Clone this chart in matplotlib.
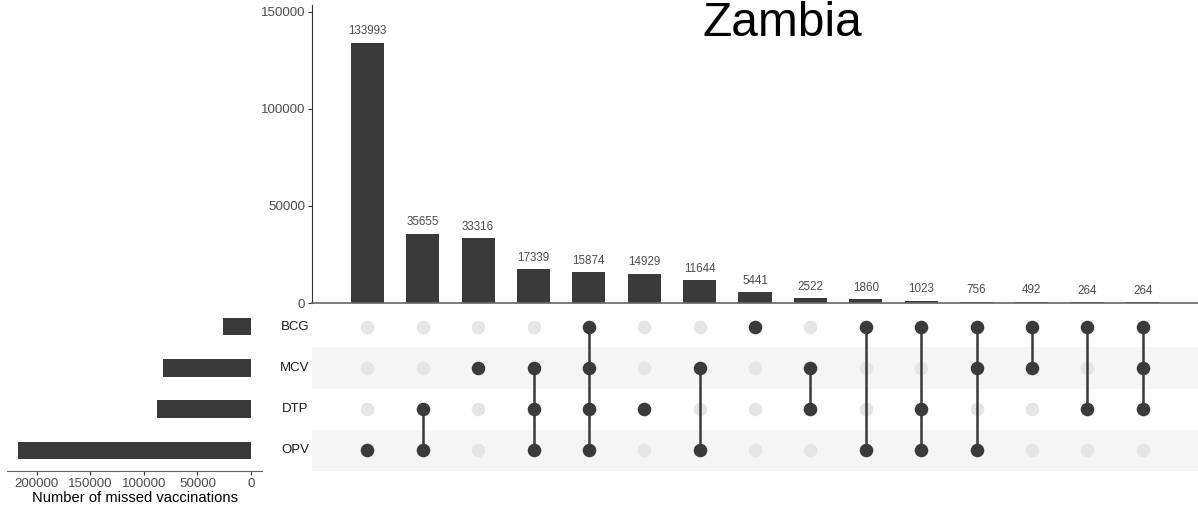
import numpy as np
import matplotlib
matplotlib.use("Agg")
import matplotlib.pyplot as plt
import matplotlib.transforms as mtransforms

plt.rcParams['font.family'] = ['Liberation Sans', 'DejaVu Sans']

# data
sets = ["BCG", "MCV", "DTP", "OPV"]
set_sizes = [25974, 82207, 87870, 218144]
counts = [133993, 35655, 33316, 17339, 15874, 14929, 11644, 5441,
          2522, 1860, 1023, 756, 492, 264, 264]
combos = [
    ["OPV"],
    ["DTP", "OPV"],
    ["MCV"],
    ["MCV", "DTP", "OPV"],
    ["BCG", "MCV", "DTP", "OPV"],
    ["DTP"],
    ["MCV", "OPV"],
    ["BCG"],
    ["MCV", "DTP"],
    ["BCG", "OPV"],
    ["BCG", "DTP", "OPV"],
    ["BCG", "MCV", "OPV"],
    ["BCG", "MCV"],
    ["BCG", "DTP"],
    ["BCG", "MCV", "DTP"],
]
title = "Zambia"

W, H = 1198, 512
dark = "#3a3a3a"
grey_txt = "#4d4d4d"

fig = plt.figure(figsize=(W / 100, H / 100), dpi=100)


def box(x0, y0, x1, y1):
    return [x0 / W, 1 - y1 / H, (x1 - x0) / W, (y1 - y0) / H]


row_y = {s: len(sets) - 1 - i for i, s in enumerate(sets)}
xs = np.arange(len(counts))

# top intersection bars
ax_top = fig.add_axes(box(312, 5, 1198, 303))
ax_top.bar(xs, counts, width=0.6, color=dark)
for x, c in zip(xs, counts):
    ax_top.annotate(str(c), (x, c), xytext=(0, 4), textcoords="offset points",
                    ha="center", va="bottom", fontsize=8.4, color=grey_txt)
ax_top.set_xlim(-1, 15)
ax_top.set_ylim(0, 153600)
ax_top.set_yticks([0, 50000, 100000, 150000])
ax_top.set_yticklabels(["0", "50000", "100000", "150000"])
ax_top.tick_params(axis="y", labelsize=9.6, colors="#333333", length=3,
                   width=0.8, pad=2)
ax_top.tick_params(axis="y", labelcolor=grey_txt)
ax_top.set_xticks([])
for s in ["top", "right"]:
    ax_top.spines[s].set_visible(False)
ax_top.spines["left"].set_color("#333333")
ax_top.spines["bottom"].set_color("#666666")
ax_top.spines["left"].set_linewidth(0.8)
ax_top.spines["bottom"].set_linewidth(1.2)

# matrix
ax_m = fig.add_axes(box(312, 306, 1198, 471))
ax_m.set_xlim(-1, 15)
ax_m.set_ylim(-0.5, 3.5)
for s in sets:
    if sets.index(s) % 2 == 1:
        y = row_y[s]
        ax_m.axhspan(y - 0.5, y + 0.5, color="#f5f5f5", lw=0, zorder=0)
for x, combo in zip(xs, combos):
    ax_m.scatter([x] * len(sets), [row_y[s] for s in sets], s=95,
                 color="#e5e5e5", zorder=2, linewidths=0)
    ys = [row_y[s] for s in combo]
    if len(ys) > 1:
        ax_m.plot([x, x], [min(ys), max(ys)], color=dark, lw=1.8, zorder=3)
    ax_m.scatter([x] * len(ys), ys, s=95, color=dark, zorder=4, linewidths=0)
ax_m.axis("off")

trans = mtransforms.blended_transform_factory(ax_m.transAxes, ax_m.transData)
for s in sets:
    ax_m.text(-0.0192, row_y[s], s, transform=trans, ha="center", va="center",
              fontsize=9.5, color="#1a1a1a")

# set sizes
ax_l = fig.add_axes(box(7, 306, 262, 471))
ax_l.barh([row_y[s] for s in sets], set_sizes, height=0.42, color=dark)
ax_l.set_xlim(228000, -10300)
ax_l.set_ylim(-0.5, 3.5)
ax_l.set_xticks([200000, 150000, 100000, 50000, 0])
ax_l.set_xticklabels(["200000", "150000", "100000", "50000", "0"])
ax_l.tick_params(axis="x", labelsize=9.6, colors="#333333", length=3,
                 width=0.8, pad=2, labelcolor=grey_txt)
ax_l.set_yticks([])
for s in ["top", "right", "left"]:
    ax_l.spines[s].set_visible(False)
ax_l.spines["bottom"].set_color("#666666")
ax_l.spines["bottom"].set_linewidth(0.8)
ax_l.set_xlabel("Number of missed vaccinations", fontsize=10.6, labelpad=1)

fig.text(782 / W, 1 - 24 / H, title, ha="center", va="center", fontsize=34.5)

fig.savefig("out.png", dpi=100)
